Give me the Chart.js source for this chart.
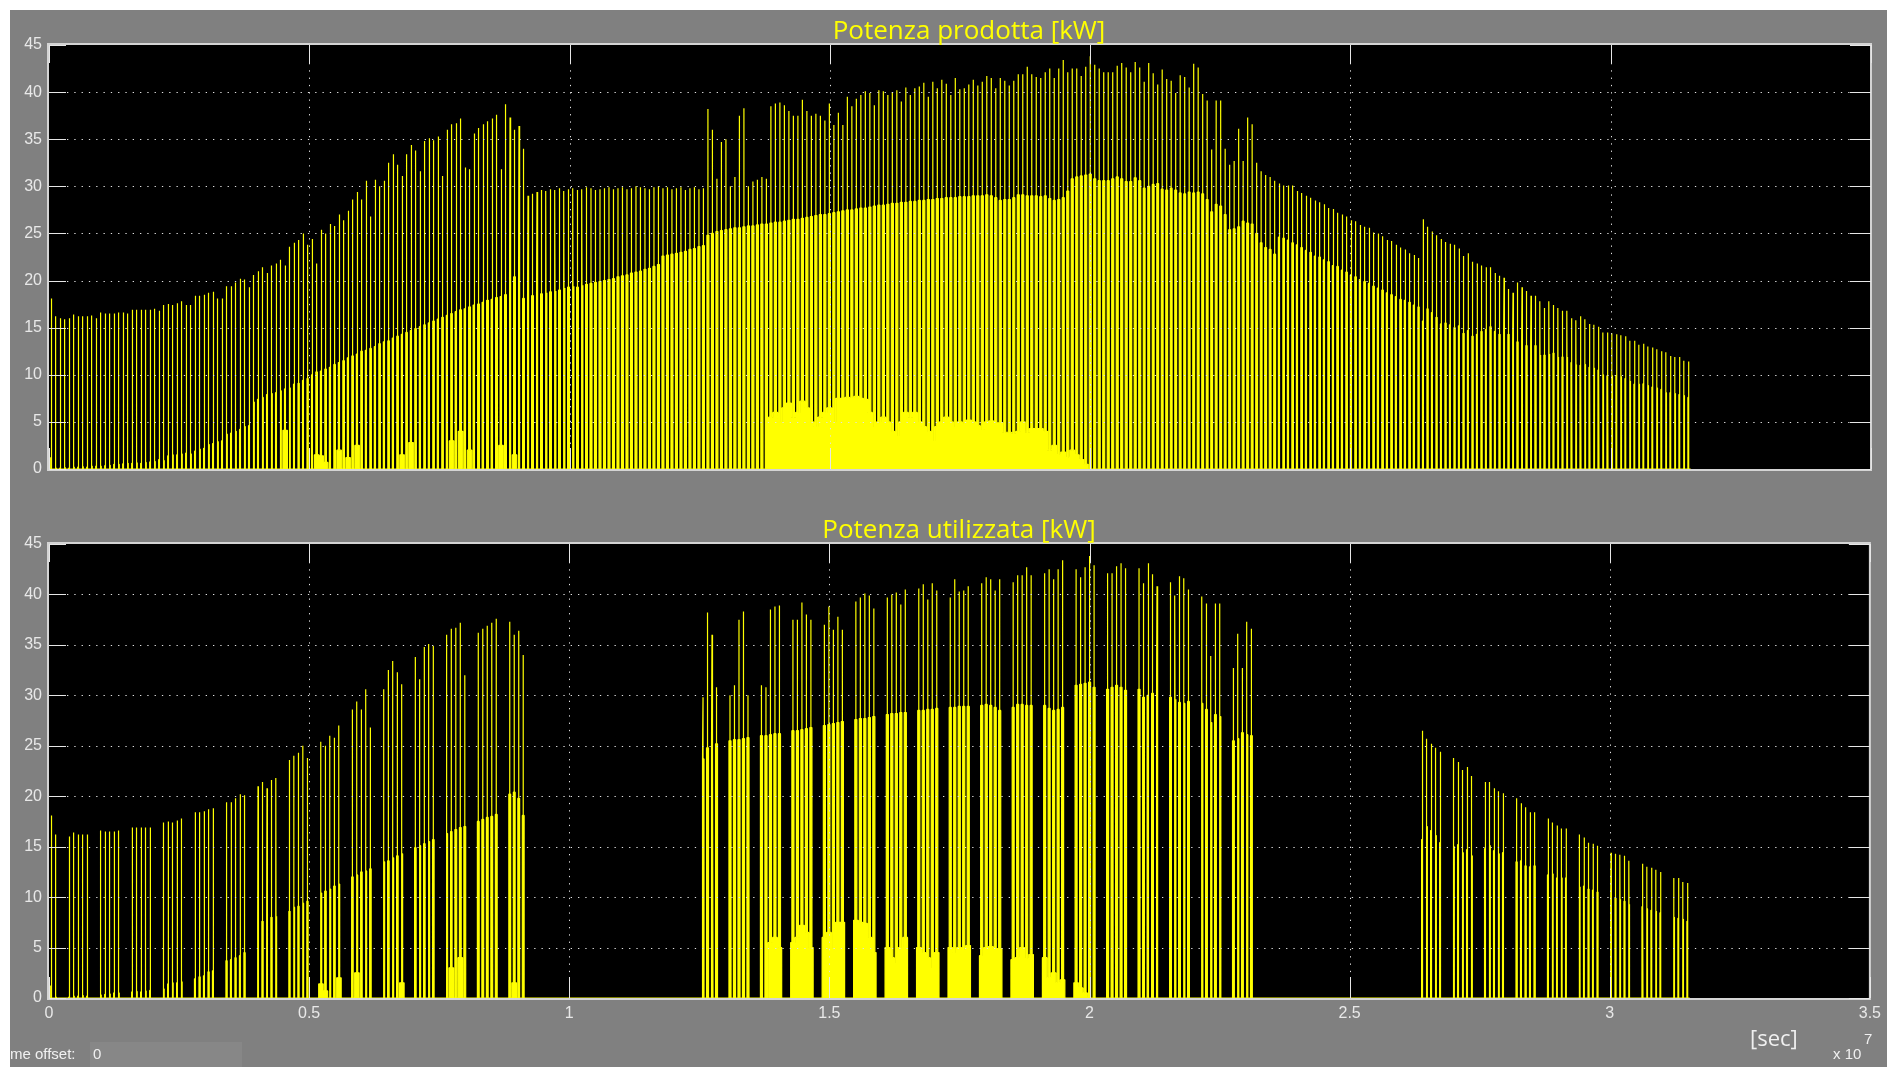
<!DOCTYPE html>
<html>
<head>
<meta charset="utf-8">
<script src="https://cdn.jsdelivr.net/npm/chart.js@4.4.1/dist/chart.umd.min.js"></script>
<style>
  html, body { margin: 0; padding: 0; background: #ffffff; }
  #frame { position: absolute; left: 0; top: 0; width: 1887px; height: 1067px; overflow: hidden; background: #ffffff; }
  #panel { position: absolute; left: 10px; top: 10px; width: 1877px; height: 1057px; background: #808080; }
  canvas { position: absolute; left: 0; }
  #cTop { top: 0; }
  #cBottom { top: 512px; }
  .title { position: absolute; width: 1000px; text-align: center; color: #ffff00; font: 26px/36px "Open Sans", sans-serif; white-space: nowrap; }
  #tTop { left: 469px; top: 11px; }
  #tBottom { left: 459px; top: 510px; }
  .lbl { position: absolute; color: #f0f0f0; white-space: nowrap; }
  #unit { left: 1750px; top: 1025px; font: 22px/24px "Open Sans", sans-serif; }
  #expo { left: 1833px; top: 1046px; font: 15px/16px "Liberation Sans", sans-serif; }
  #expoPow { left: 1864px; top: 1031px; font: 15px/16px "Liberation Sans", sans-serif; }
  #offsetClip { position: absolute; left: 10px; top: 1042px; width: 80px; height: 25px; overflow: hidden; }
  #offsetText { position: absolute; left: -12px; top: 3px; color: #f0f0f0; font: 15px/18px "Liberation Sans", sans-serif; white-space: nowrap; }
  #offsetBox { position: absolute; left: 90px; top: 1042px; width: 152px; height: 25px; background: #878787; }
  #offsetVal { position: absolute; left: 3px; top: 3px; color: #f0f0f0; font: 15px/18px "Liberation Sans", sans-serif; }
</style>
</head>
<body>
<div id="frame">
  <div id="panel"></div>
  <canvas id="cTop" width="1887" height="512"></canvas>
  <canvas id="cBottom" width="1887" height="555"></canvas>
  <div class="title" id="tTop"></div>
  <div class="title" id="tBottom"></div>
  <div class="lbl" id="unit">[sec]</div>
  <div class="lbl" id="expo">x 10</div>
  <div class="lbl" id="expoPow">7</div>
  <div id="offsetClip"><span id="offsetText">Time offset:</span></div>
  <div id="offsetBox"><span id="offsetVal">0</span></div>
</div>
<script>
// Daily peak power [kW], one value per day of the year
const peakKW = [
  18.1,16.2,16.0,15.9,16.0,16.4,16.2,16.2,16.2,16.3,
  16.0,16.6,16.5,16.5,16.5,16.6,16.6,16.5,16.9,16.9,
  16.9,16.9,16.9,17.0,16.8,17.4,17.5,17.4,17.6,17.8,
  17.4,17.4,18.4,18.4,18.5,18.7,18.8,18.1,18.1,19.4,
  19.4,19.8,20.2,20.1,19.3,20.6,21.0,21.4,20.8,21.6,
  21.8,22.2,21.6,23.6,24.0,24.3,25.0,23.8,24.4,21.8,
  25.4,25.0,26.0,25.8,27.0,26.4,27.4,28.6,29.4,28.6,
  30.6,26.8,30.7,30.0,30.6,32.5,33.4,32.3,31.1,33.4,
  34.4,33.8,31.6,34.8,35.1,34.9,35.3,31.1,36.0,36.6,
  36.7,37.2,32.0,31.8,35.6,36.2,36.6,36.9,37.2,37.6,
  31.8,38.7,37.3,36.0,36.4,34.0,29.0,29.2,29.4,29.6,
  29.5,29.7,29.6,29.8,29.5,29.7,29.8,29.6,29.7,29.9,
  29.8,29.6,29.7,29.8,29.9,29.7,29.8,29.9,29.7,29.8,
  30.0,29.9,29.8,29.7,29.9,30.0,29.8,29.9,29.7,29.8,
  29.9,29.6,29.8,29.9,29.7,29.8,38.2,36.0,30.8,34.7,
  35.0,30.0,31.0,37.5,38.3,30.0,30.5,30.7,31.0,30.8,
  38.5,38.8,38.9,38.6,38.0,37.5,37.5,39.2,38.0,37.5,
  37.7,37.5,37.0,38.8,36.5,37.8,36.5,39.5,38.5,39.3,
  39.7,40.1,39.9,38.6,40.2,40.1,39.7,40.0,40.2,39.0,
  40.5,39.7,40.4,40.6,41.0,39.5,41.1,40.4,41.3,40.9,
  39.7,41.5,40.3,40.4,40.8,41.3,40.7,41.1,41.7,41.5,
  40.4,41.5,41.2,40.7,41.2,41.9,41.9,42.7,41.9,41.6,
  41.5,42.1,42.5,41.5,42.5,43.4,42.1,42.5,42.5,41.7,
  42.7,43.8,42.9,42.5,42.1,42.1,42.1,42.8,43.1,42.6,
  42.1,43.2,42.6,41.1,43.1,42.0,40.8,42.4,41.4,41.2,
  39.9,41.8,41.6,40.5,43.0,42.6,39.8,39.1,33.9,39.1,
  39.1,34.0,32.3,32.7,36.1,32.7,37.3,36.6,32.5,31.6,
  31.2,31.0,30.6,30.3,30.1,30.1,30.1,29.5,29.3,29.0,
  28.8,28.5,28.3,28.1,27.7,27.6,27.2,27.0,26.8,26.4,
  26.3,25.9,25.7,25.6,25.1,25.0,24.7,24.3,24.2,23.8,
  23.5,23.3,22.9,22.7,22.4,26.5,25.7,25.2,24.8,24.4,
  24.1,23.9,23.8,23.4,22.6,22.9,22.0,21.8,21.6,21.4,
  21.4,20.8,20.5,20.3,19.1,18.7,19.8,19.3,18.9,18.4,
  18.4,17.8,17.1,17.8,17.4,17.1,16.8,16.8,16.0,15.8,
  16.2,15.9,15.4,15.3,15.1,14.5,14.5,14.4,14.3,14.2,
  14.1,13.6,13.6,13.2,13.3,13.0,12.9,12.7,12.5,12.4,
  12.0,11.9,11.9,11.5,11.4
];

// Daily plateau level around the peak [kW]
const plateauKW = [
  1.2,0.1,0.1,0.15,0.1,0.2,0.2,0.25,0.2,0.3,
  0.3,0.3,0.35,0.4,0.5,0.5,0.55,0.6,0.6,0.65,
  0.6,0.7,0.75,0.8,1.0,0.9,1.4,1.5,1.5,1.6,
  1.7,1.6,1.9,2.1,2.2,2.6,2.7,2.9,3.0,3.7,
  3.8,4.0,4.2,4.5,4.6,7.1,7.4,7.6,7.9,8.0,
  8.1,8.3,8.5,8.6,9.0,9.1,9.4,9.6,10.0,10.3,
  10.4,10.6,10.8,11.1,11.3,11.5,11.8,12.0,12.2,12.5,
  12.6,12.8,13.0,13.3,13.5,13.6,13.9,14.1,14.3,14.5,
  14.7,14.9,15.1,15.3,15.5,15.7,15.9,16.1,16.3,16.5,
  16.7,16.9,17.0,17.2,17.4,17.5,17.7,17.9,18.0,18.2,
  18.3,18.5,20.2,20.4,19.8,18.1,18.2,18.4,18.3,18.6,
  18.7,18.8,18.9,19.0,19.2,19.3,19.4,19.3,19.5,19.6,
  19.7,19.8,19.9,20.0,20.1,20.2,20.4,20.5,20.6,20.8,
  20.9,21.0,21.2,21.3,21.5,21.7,22.6,22.7,22.8,22.9,
  23.0,23.1,23.3,23.4,23.6,23.7,24.8,25.0,25.2,25.3,
  25.4,25.5,25.6,25.6,25.7,25.8,25.8,25.9,26.0,26.0,
  26.1,26.2,26.2,26.3,26.4,26.5,26.5,26.6,26.7,26.8,
  26.9,27.0,27.0,27.1,27.2,27.3,27.4,27.5,27.5,27.6,
  27.7,27.7,27.8,27.9,28.0,28.0,28.1,28.2,28.2,28.3,
  28.3,28.4,28.4,28.5,28.5,28.6,28.6,28.7,28.7,28.8,
  28.8,28.8,28.9,28.9,28.9,29.0,29.0,29.0,29.1,29.0,
  28.8,28.5,28.6,28.6,28.8,29.1,29.1,29.0,29.0,29.0,
  28.9,29.0,28.7,28.5,28.6,28.8,29.5,30.8,31.0,31.1,
  31.2,31.3,30.8,30.6,30.6,30.6,30.8,31.0,30.8,30.5,
  30.5,30.9,30.6,29.8,30.0,30.2,30.3,29.7,29.6,29.8,
  29.6,29.3,29.2,29.4,29.3,29.4,29.2,28.6,27.3,28.1,
  27.9,27.0,25.4,25.5,25.7,26.3,26.1,26.0,25.0,24.0,
  23.5,23.3,22.8,24.6,24.5,24.3,24.0,23.8,23.5,23.2,
  23.0,22.6,22.5,22.2,22.0,21.6,21.5,21.1,20.9,20.6,
  20.4,20.1,19.9,19.7,19.4,19.2,19.0,18.7,18.5,18.3,
  18.0,17.9,17.7,17.4,17.2,15.7,17.0,16.6,16.1,15.4,
  15.5,15.3,15.0,15.2,14.4,14.7,14.1,14.3,14.6,14.8,
  15.1,14.6,14.3,14.4,14.3,13.8,13.5,13.6,13.1,13.0,
  13.1,12.1,12.1,12.2,12.3,11.9,11.9,11.9,11.3,11.1,
  11.0,11.1,10.8,10.7,10.5,10.0,9.9,9.9,9.9,9.8,
  9.6,9.3,9.0,9.0,9.05,8.85,8.7,8.6,8.45,8.1,
  8.1,8.0,7.9,7.8,7.6
];

// Base level held outside the midday plateau [kW]
const baseKW = [
  0,0,0,0,0,0,0,0,0,0, 0,0,0,0,0,0,0,0,0,0,
  0,0,0,0,0,0,0,0,0,0, 0,0,0,0,0,0,0,0,0,0,
  0,0,0,0,0,0,0,0,0,0, 0,0,4.1,0,0,0,0,0,0,1.5,
  1.4,0.7,0,0,2.0,0,1.2,0,2.5,0, 0,0,0,0,0,0,0,0,1.5,0,
  2.8,0,0,0,0,0,0,0,0,3.0, 0,4.0,0,2.0,0,0,0,0,0,0,
  2.5,0,0,1.5,0,0,0,0,0,0, 0,0,0,0,0,0,0,0,0,0,
  0,0,0,0,0,0,0,0,0,0, 0,0,0,0,0,0,0,0,0,0,
  0,0,0,0,0,0,0,0,0,0, 0,0,0,0,0,0,0,0,0,0,
  5.5,6.0,5.0,6.5,7.0,5.5,6.0,7.2,6.5,5.0,
  4.5,5.5,6.0,6.5,5.0,7.5,7.5,7.6,7.5,7.7,
  7.5,7.4,6.0,4.5,5.0,5.5,5.0,4.0,3.5,5.0,
  6.0,5.5,6.0,5.0,4.5,4.0,3.0,4.5,5.0,5.5,
  5.0,4.5,5.0,4.8,5.2,5.0,4.6,4.2,5.0,5.1,
  4.9,4.9,3.9,3.9,3.8,4.0,5.0,3.9,4.3,4.3,
  4.3,4.0,2.0,2.5,1.5,1.8,1.2,2.0,1.5,1.0,
  0.5,0,0,0,0,0,0,0,0,0, 0,0,0,0,0,0,0,0,0,0,
  0,0,0,0,0,0,0,0,0,0, 0,0,0,0,0,0,0,0,0,0,
  0,0,0,0,0,0,0,0,0,0, 0,0,0,0,0,0,0,0,0,0,
  0,0,0,0,0,0,0,0,0,0, 0,0,0,0,0,0,0,0,0,0,
  0,0,0,0,0,0,0,0,0,0, 0,0,0,0,0,0,0,0,0,0,
  0,0,0,0,0,0,0,0,0,0, 0,0,0,0,0,0,0,0,0,0,
  0,0,0,0,0,0,0,0,0,0, 0,0,0,0,0
];

// Length of the midday plateau in hours, by month
const plateauHours = [5.5, 6.5, 8, 9.5, 10.5, 11, 11, 10.5, 9.5, 8, 6.5, 5.5];

// Usage calendar: day-of-year % 7 (1 January is a Thursday) and idle periods
const weekPattern = [1, 1, 0, 0, 1, 1, 1];
const idlePeriods = [[106, 144], [268, 304]];

const yTicks = [0, 5, 10, 15, 20, 25, 30, 35, 40, 45];
const xTicks = [0, 0.5e7, 1e7, 1.5e7, 2e7, 2.5e7, 3e7, 3.5e7];
const xTickLabels = ['0', '0.5', '1', '1.5', '2', '2.5', '3', '3.5'];

const titleTop = 'Potenza prodotta [kW]';
const titleBottom = 'Potenza utilizzata [kW]';
document.getElementById('tTop').textContent = titleTop;
document.getElementById('tBottom').textContent = titleBottom;

[peakKW, plateauKW, baseKW].forEach(a => { if (a.length !== 365) throw new Error('length ' + a.length); });

const HOUR = 3600, DAY = 86400;
const monthStart = [0, 31, 59, 90, 120, 151, 181, 212, 243, 273, 304, 334];

function inUse(d) {
  if (!weekPattern[d % 7]) return false;
  return !idlePeriods.some(([a, b]) => d >= a && d <= b);
}

function monthOf(d) {
  let m = 0;
  while (m < 11 && d >= monthStart[m + 1]) m++;
  return m;
}

function buildSeries(gated) {
  const pts = [];
  for (let d = 0; d < peakKW.length; d++) {
    const on = !gated || inUse(d);
    const n = on ? baseKW[d] : 0, s = on ? plateauKW[d] : 0, p = on ? peakKW[d] : 0;
    const t = d * DAY;
    const half = plateauHours[monthOf(d)] / 2;
    const a = 12 - half, b = 12 + half;
    pts.push(
      { x: t, y: n },
      { x: t + (a - 0.1) * HOUR, y: n },
      { x: t + a * HOUR, y: s },
      { x: t + 11.9 * HOUR, y: s },
      { x: t + 12.0 * HOUR, y: p },
      { x: t + 12.1 * HOUR, y: s },
      { x: t + b * HOUR, y: s },
      { x: t + (b + 0.1) * HOUR, y: n },
      { x: t + DAY - 1, y: n }
    );
  }
  return pts;
}

// Scope frame: black plot area and border under the trace, dotted grid and inward ticks on top
const scopeFrame = {
  id: 'scopeFrame',
  beforeDatasetsDraw(chart) {
    const { ctx, chartArea: a } = chart;
    ctx.save();
    ctx.fillStyle = '#000000';
    ctx.fillRect(a.left, a.top, a.right - a.left, a.bottom - a.top);
    ctx.strokeStyle = '#d4d4d4';
    ctx.lineWidth = 2;
    ctx.strokeRect(a.left - 1, a.top - 1, a.right - a.left + 1, a.bottom - a.top + 2);
    ctx.restore();
  },
  afterDatasetsDraw(chart) {
    const { ctx, chartArea: a, scales } = chart;
    const xs = scales.x, ys = scales.y;
    ctx.save();
    ctx.lineWidth = 1;
    ctx.strokeStyle = '#e0e0e0';
    ctx.setLineDash([1.3, 6]);
    yTicks.forEach(v => {
      if (v === 0 || v === 45) return;
      const y = Math.round(ys.getPixelForValue(v)) + 0.5;
      ctx.beginPath(); ctx.moveTo(a.left + 18, y); ctx.lineTo(a.right - 21, y); ctx.stroke();
    });
    xTicks.forEach(v => {
      if (v === 0 || v === 3.5e7) return;
      const x = Math.round(xs.getPixelForValue(v)) + 0.5;
      ctx.beginPath(); ctx.moveTo(x, a.top + 18); ctx.lineTo(x, a.bottom - 21); ctx.stroke();
    });
    ctx.setLineDash([]);
    ctx.strokeStyle = '#e6e6e6';
    yTicks.forEach(v => {
      const y = Math.round(ys.getPixelForValue(v)) + 0.5;
      ctx.beginPath(); ctx.moveTo(a.left, y); ctx.lineTo(a.left + 17, y); ctx.stroke();
      ctx.beginPath(); ctx.moveTo(a.right - 21, y); ctx.lineTo(a.right, y); ctx.stroke();
    });
    xTicks.forEach(v => {
      const x = Math.round(xs.getPixelForValue(v)) + 0.5;
      ctx.beginPath(); ctx.moveTo(x, a.top); ctx.lineTo(x, a.top + 18); ctx.stroke();
      ctx.beginPath(); ctx.moveTo(x, a.bottom - 21); ctx.lineTo(x, a.bottom); ctx.stroke();
    });
    ctx.restore();
  }
};

const tickFont = { family: '"Liberation Sans", Arial, sans-serif', size: 16 };
const tickColor = '#e8e8e8';

function makeScope(canvasId, points, showX, padding) {
  return new Chart(document.getElementById(canvasId), {
    type: 'line',
    data: {
      datasets: [{
        data: points,
        parsing: false,
        normalized: true,
        borderColor: '#ffff00',
        backgroundColor: '#ffff00',
        borderWidth: 1.2,
        borderJoinStyle: 'bevel',
        pointRadius: 0,
        tension: 0,
        fill: 'origin'
      }]
    },
    options: {
      responsive: false,
      animation: false,
      events: [],
      layout: { padding },
      plugins: {
        legend: { display: false },
        tooltip: { enabled: false },
        title: { display: false }
      },
      scales: {
        x: {
          type: 'linear',
          min: 0,
          max: 3.5e7,
          display: showX,
          grid: { display: false, drawTicks: false },
          border: { display: false },
          afterFit: s => { s.height = 30; },
          ticks: {
            stepSize: 5e6,
            autoSkip: false,
            maxRotation: 0,
            padding: 6,
            color: tickColor,
            font: tickFont,
            callback: v => xTickLabels[Math.round(v / 5e6)]
          }
        },
        y: {
          type: 'linear',
          min: 0,
          max: 45,
          grid: { display: false, drawTicks: false },
          border: { display: false },
          afterFit: s => { s.width = 49; },
          ticks: { stepSize: 5, padding: 7, color: tickColor, font: tickFont }
        }
      }
    },
    plugins: [scopeFrame]
  });
}

makeScope('cTop', buildSeries(false), false, { left: 0, right: 16, top: 45, bottom: 13 });
makeScope('cBottom', buildSeries(true), true, { left: 0, right: 16, top: 32, bottom: 39 });
</script>
</body>
</html>
